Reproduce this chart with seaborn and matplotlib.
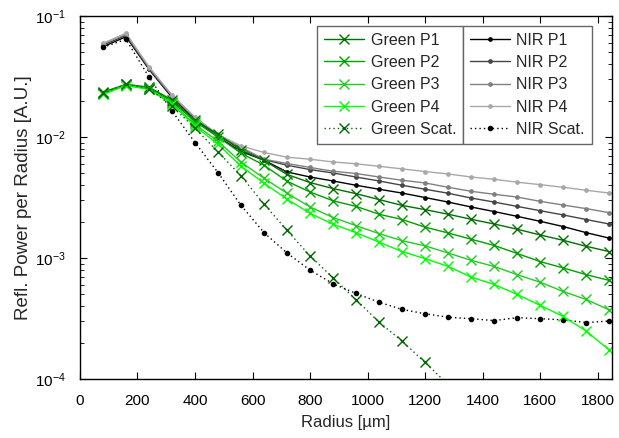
import numpy as np
import pandas as pd
import matplotlib
matplotlib.use("Agg")
import matplotlib.pyplot as plt
import seaborn as sns
from matplotlib.ticker import LogLocator, MultipleLocator, NullFormatter

# --- Data ---
RADIUS = [80 * k for k in range(1, 24)]          # 80 ... 1840 um
RADIUS_GREEN_SCAT = RADIUS[:16]                  # 80 ... 1280 um

green_p1 = [0.0235, 0.0272, 0.0258, 0.0202, 0.0138, 0.0105, 0.0078, 0.0064,
            0.0049, 0.0042, 0.00375, 0.0034, 0.00304, 0.00272, 0.00251, 0.0023,
            0.00209, 0.00191, 0.00173, 0.00155, 0.0014, 0.00125, 0.00113]
green_p2 = [0.0232, 0.027, 0.0255, 0.0196, 0.0134, 0.0100, 0.00735, 0.00584,
            0.00431, 0.00351, 0.00297, 0.00267, 0.0023, 0.00208, 0.0018, 0.00161,
            0.00143, 0.00127, 0.00109, 0.000934, 0.000828, 0.000729, 0.000653]
green_p3 = [0.0228, 0.0268, 0.025, 0.019, 0.0127, 0.0092, 0.0062, 0.00456,
            0.00343, 0.00264, 0.00216, 0.00185, 0.00159, 0.00139, 0.00126, 0.0011,
            0.000956, 0.000852, 0.000728, 0.000631, 0.000529, 0.000454, 0.000373]
green_p4 = [0.0225, 0.0266, 0.0247, 0.0187, 0.0123, 0.0087, 0.00573, 0.00415,
            0.00306, 0.00234, 0.0019, 0.00162, 0.00135, 0.00113, 0.000987, 0.000852,
            0.000695, 0.000604, 0.0005, 0.000406, 0.000329, 0.000249, 0.000174]
green_scat = [0.0229, 0.0274, 0.0251, 0.018, 0.0118, 0.00753, 0.00477, 0.00279,
              0.00169, 0.00104, 0.000687, 0.000452, 0.000295, 0.000206, 0.000137, 0.00009]

nir_p1 = [0.0557, 0.0674, 0.0362, 0.0212, 0.0140, 0.0100, 0.0076, 0.00643,
          0.00514, 0.00467, 0.00433, 0.00399, 0.0037, 0.00344, 0.00316, 0.0029,
          0.00264, 0.00242, 0.00221, 0.00201, 0.00182, 0.00162, 0.00146]
nir_p2 = [0.0575, 0.069, 0.0368, 0.0215, 0.0142, 0.0102, 0.0081, 0.0065,
          0.00584, 0.00538, 0.00504, 0.00467, 0.00433, 0.00399, 0.0037, 0.00343,
          0.00313, 0.0029, 0.00267, 0.00246, 0.00227, 0.00208, 0.00191]
nir_p3 = [0.059, 0.071, 0.0375, 0.022, 0.0144, 0.0103, 0.0082, 0.00655,
          0.00604, 0.0056, 0.00521, 0.00499, 0.00467, 0.00439, 0.00417, 0.00384,
          0.00356, 0.00336, 0.00319, 0.00294, 0.00274, 0.00256, 0.00237]
nir_p4 = [0.0594, 0.072, 0.038, 0.0222, 0.0146, 0.0105, 0.00843, 0.00745,
          0.00681, 0.00655, 0.00622, 0.006, 0.00573, 0.00545, 0.00518, 0.00495,
          0.00467, 0.00447, 0.00423, 0.00404, 0.00384, 0.00363, 0.00344]
nir_scat = [0.0551, 0.0641, 0.0313, 0.0164, 0.0090, 0.00508, 0.00272, 0.00162,
            0.0011, 0.000794, 0.000613, 0.000509, 0.000431, 0.000376, 0.000346, 0.000324,
            0.000315, 0.000304, 0.000321, 0.000315, 0.000308, 0.000293, 0.000301]

DOT = (0, (1, 2.2))

# (label, x, y, color, marker, linestyle, markersize)
GREEN_SERIES = [
    ("Green P1", RADIUS, green_p1, "#007000", "x", "-", 7.5),
    ("Green P2", RADIUS, green_p2, "#00a000", "x", "-", 7.5),
    ("Green P3", RADIUS, green_p3, "#22cc22", "x", "-", 7.5),
    ("Green P4", RADIUS, green_p4, "#00ff00", "x", "-", 7.5),
    ("Green Scat.", RADIUS_GREEN_SCAT, green_scat, "#006600", "x", DOT, 7.5),
]
NIR_SERIES = [
    ("NIR P1", RADIUS, nir_p1, "#000000", "o", "-", 2.4),
    ("NIR P2", RADIUS, nir_p2, "#454545", "o", "-", 2.4),
    ("NIR P3", RADIUS, nir_p3, "#808080", "o", "-", 2.4),
    ("NIR P4", RADIUS, nir_p4, "#a8a8a8", "o", "-", 2.4),
    ("NIR Scat.", RADIUS, nir_scat, "#000000", "o", DOT, 3),
]

sns.set_style("ticks")
plt.rcParams["font.family"] = ["Liberation Sans", "DejaVu Sans"]
plt.rcParams["font.size"] = 11

fig = plt.figure(figsize=(6.19, 4.38), dpi=100)
ax = fig.add_axes([0.1292, 0.1347, 0.8595, 0.8288])


def draw(series_list):
    handles = []
    for label, xs, ys, col, mk, ls, ms in series_list:
        df = pd.DataFrame({"radius": xs, "power": ys})
        sns.lineplot(data=df, x="radius", y="power", ax=ax, color=col,
                     linestyle=ls, linewidth=1, marker=mk, markersize=ms,
                     markeredgecolor=col, markerfacecolor=col,
                     markeredgewidth=1, label=label, legend=False)
        handles.append(ax.lines[-1])
    return handles


h_nir = draw(NIR_SERIES)
h_green = draw(GREEN_SERIES)

ax.set_yscale("log")
ax.set_xlim(0, 1850)
ax.set_ylim(1e-4, 1e-1)
ax.xaxis.set_major_locator(MultipleLocator(200))
ax.yaxis.set_major_locator(LogLocator(base=10, numticks=10))
ax.yaxis.set_minor_locator(LogLocator(base=10, subs=np.arange(2, 10), numticks=10))
ax.yaxis.set_minor_formatter(NullFormatter())
ax.tick_params(which="both", direction="in", top=True, right=True,
               colors="black", labelsize=11)
ax.tick_params(which="major", length=5, width=0.8)
ax.tick_params(which="minor", length=3, width=0.6)
ax.tick_params(axis="x", which="major", pad=11)
ax.tick_params(axis="y", which="major", pad=10)
for sp in ax.spines.values():
    sp.set_visible(True)
    sp.set_linewidth(1)
    sp.set_color("black")

ax.set_xlabel("Radius [µm]", fontsize=12, labelpad=5)
ax.set_ylabel("Refl. Power per Radius [A.U.]", fontsize=13.5, labelpad=2)

leg_kw = dict(loc="upper left", mode="expand", fontsize=11.5, frameon=True,
              fancybox=False, framealpha=1, edgecolor="#666666",
              handlelength=2.5, handletextpad=0.4, labelspacing=0.46,
              borderpad=0.42, borderaxespad=0)
leg1 = ax.legend(h_green, [s[0] for s in GREEN_SERIES],
                 bbox_to_anchor=(0.4464, 0.9725, 0.2741, 0.0), **leg_kw)
leg1.get_frame().set_linewidth(1)
ax.add_artist(leg1)
leg2 = ax.legend(h_nir, [s[0] for s in NIR_SERIES],
                 bbox_to_anchor=(0.7205, 0.9725, 0.2415, 0.0), **leg_kw)
leg2.get_frame().set_linewidth(1)

fig.savefig("out.png", dpi=100)
plt.close(fig)
